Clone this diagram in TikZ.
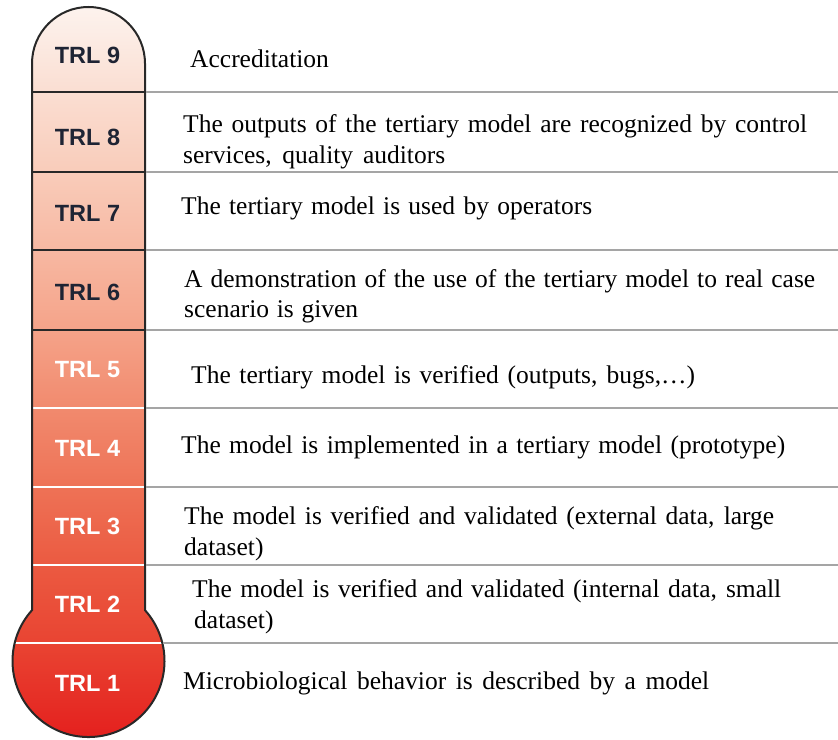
\documentclass[tikz,border=0pt]{standalone}
\usepackage{fontspec}
\setmainfont{Liberation Serif}
\newfontfamily\lblfont{Liberation Sans}
\definecolor{k0}{RGB}{253,243,238}
\definecolor{k1}{RGB}{250,222,210}
\definecolor{k2}{RGB}{249,204,186}
\definecolor{k3}{RGB}{247,184,162}
\definecolor{k4}{RGB}{245,163,137}
\definecolor{k5}{RGB}{241,138,110}
\definecolor{k6}{RGB}{238,114,86}
\definecolor{k7}{RGB}{235,90,65}
\definecolor{k8}{RGB}{233,68,50}
\definecolor{k9}{RGB}{228,32,30}
\definecolor{navy}{RGB}{30,36,52}
\definecolor{sepgray}{RGB}{165,165,165}
\definecolor{outline}{RGB}{40,40,40}
\tikzset{
  lbl/.style={font=\lblfont\bfseries\fontsize{23.5}{23.5}\selectfont, inner sep=0pt},
  darklbl/.style={lbl, text=navy},
  lightlbl/.style={lbl, text=white},
  desc/.style={font=\fontsize{25.5}{30}\selectfont, inner sep=0pt, anchor=base west},
  rowline/.style={draw=sepgray, line width=2pt},
  darksep/.style={draw=outline, line width=2.5pt},
  lightsep/.style={draw=white, line width=2.5pt},
}
\newcommand{\jline}[2]{\makebox[#1pt][s]{#2}}
\begin{document}
\begin{tikzpicture}[x=1pt,y=1pt]
\useasboundingbox (0,0) rectangle (838,739);
\def\thermo{(32,675.5) arc[start angle=180,end angle=0,radius=56.5] -- (145,128.8) arc[start angle=41.98,end angle=-221.98,radius=76] -- cycle}
\begin{scope}
  \clip \thermo;
  \shade[top color=k0, bottom color=k1] (0,647) rectangle (200,733);
  \shade[top color=k1, bottom color=k2] (0,567) rectangle (200,647);
  \shade[top color=k2, bottom color=k3] (0,489) rectangle (200,567);
  \shade[top color=k3, bottom color=k4] (0,409) rectangle (200,489);
  \shade[top color=k4, bottom color=k5] (0,331) rectangle (200,409);
  \shade[top color=k5, bottom color=k6] (0,252) rectangle (200,331);
  \shade[top color=k6, bottom color=k7] (0,174) rectangle (200,252);
  \shade[top color=k7, bottom color=k8] (0,96) rectangle (200,174);
  \shade[top color=k8, bottom color=k9] (0,1) rectangle (200,96);
  \foreach \yy in {647,567,489,409} \draw[darksep] (0,\yy) -- (200,\yy);
  \foreach \yy in {331,252,174,96} \draw[lightsep] (0,\yy) -- (200,\yy);
\end{scope}
\draw[outline, line width=2pt] \thermo;
% row separator lines
\foreach \yy [count=\i] in {647,567,489,409,331,252,174} {
  \coordinate (s\i) at (146,\yy);
  \coordinate (e\i) at (838,\yy);
  \draw[rowline] (s\i) -- (e\i);
}
\coordinate (s8) at (163,96);
\coordinate (e8) at (838,96);
\draw[rowline] (s8) -- (e8);
% labels
\node[darklbl]  (t9) at (87.5,684) {TRL 9};
\node[darklbl]  (t8) at (87.5,602) {TRL 8};
\node[darklbl]  (t7) at (87.5,526) {TRL 7};
\node[darklbl]  (t6) at (87.5,447) {TRL 6};
\node[lightlbl] (t5) at (87.5,369) {TRL 5};
\node[lightlbl] (t4) at (87.5,291) {TRL 4};
\node[lightlbl] (t3) at (87.5,213) {TRL 3};
\node[lightlbl] (t2) at (87.5,135) {TRL 2};
\node[lightlbl] (t1) at (87.5,56)  {TRL 1};
% descriptions
\node[desc] (d9)  at (190,671) {Accreditation};
\node[desc] (d8a) at (183,606) {\jline{624}{The outputs of the tertiary model are recognized by control}};
\node[desc] (d8b) at (183,575) {\jline{262}{services, quality auditors}};
\node[desc] (d7)  at (181,524) {\jline{411}{The tertiary model is used by operators}};
\node[desc] (d6a) at (184,451) {\jline{631}{A demonstration of the use of the tertiary model to real case}};
\node[desc] (d6b) at (184,421) {\jline{174}{scenario is given}};
\node[desc] (d5)  at (191,355) {\jline{504}{The tertiary model is verified (outputs, bugs,…)}};
\node[desc] (d4)  at (181,285) {\jline{604}{The model is implemented in a tertiary model (prototype)}};
\node[desc] (d3a) at (184,214) {\jline{590}{The model is verified and validated (external data, large}};
\node[desc] (d3b) at (184,183) {dataset)};
\node[desc] (d2a) at (192,141) {\jline{589}{The model is verified and validated (internal data, small}};
\node[desc] (d2b) at (194,110) {dataset)};
\node[desc] (d1)  at (183,49)  {\jline{526}{Microbiological behavior is described by a model}};
\end{tikzpicture}
\end{document}
